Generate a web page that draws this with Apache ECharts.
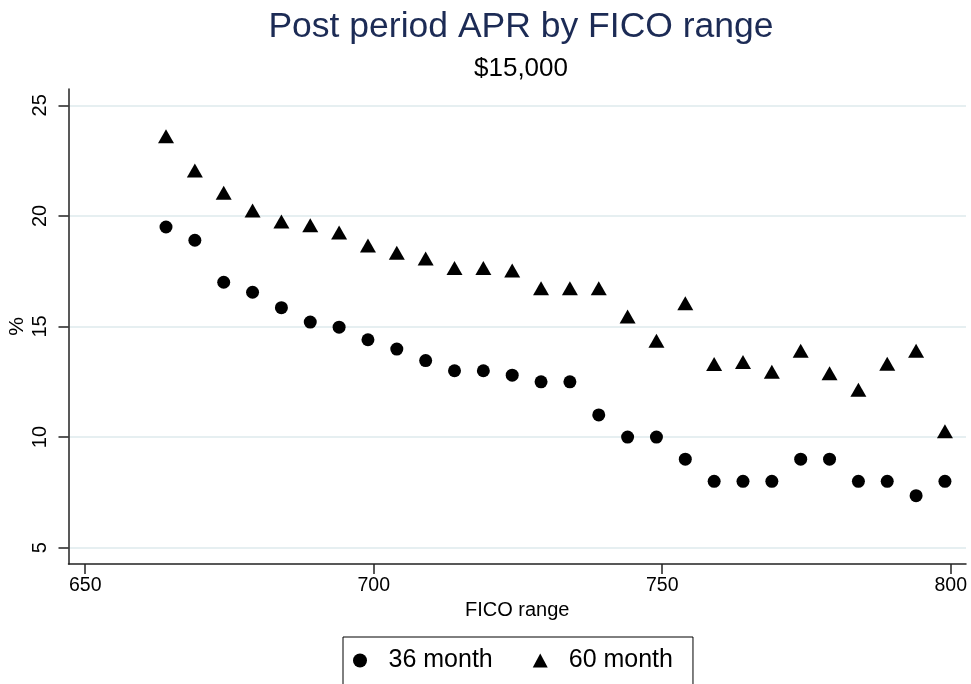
<!DOCTYPE html>
<html>
<head>
<meta charset="utf-8">
<script src="https://cdn.jsdelivr.net/npm/echarts@6/dist/echarts.min.js"></script>
<style>
  html, body { margin: 0; padding: 0; background: #fff; }
  #main { width: 971px; height: 684px; }
</style>
</head>
<body>
<div id="main"></div>
<script>
// FICO range midpoints
var fico = [664, 669, 674, 679, 684, 689, 694, 699, 704, 709, 714, 719, 724, 729,
            734, 739, 744, 749, 754, 759, 764, 769, 774, 779, 784, 789, 794, 799];
// APR (%) for 36 month loans
var apr36 = [19.5, 18.9, 17.0, 16.55, 15.85, 15.2, 14.97, 14.4, 13.98, 13.46, 13.0, 13.0, 12.8, 12.5,
             12.5, 11.0, 10.0, 10.0, 9.0, 8.0, 8.0, 8.0, 9.0, 9.0, 8.0, 8.0, 7.35, 8.0];
// APR (%) for 60 month loans
var apr60 = [23.6, 22.05, 21.05, 20.25, 19.75, 19.58, 19.25, 18.66, 18.33, 18.07, 17.65, 17.65, 17.53, 16.73,
             16.73, 16.73, 15.45, 14.36, 16.05, 13.3, 13.39, 12.95, 13.9, 12.89, 12.14, 13.31, 13.9, 10.26];
// tick labels
var xTicks = [650, 700, 750, 800];
var yTicks = [5, 10, 15, 20, 25];

var seriesNames = ['36 month', '60 month'];

function pairs(ys) {
    var res = [];
    for (var i = 0; i < fico.length; i++) {
        res.push([fico[i], ys[i]]);
    }
    return res;
}

var chart = echarts.init(document.getElementById('main'));

var option = {
    backgroundColor: '#ffffff',
    animation: false,
    title: [{
        text: 'Post period APR by FICO range',
        left: 516,
        textAlign: 'center',
        top: 4,
        textStyle: {color: '#1c2b55', fontSize: 35.5, fontWeight: 'normal', fontFamily: 'Liberation Sans'}
    }, {
        text: '$15,000',
        left: 516,
        textAlign: 'center',
        top: 51,
        textStyle: {color: '#000', fontSize: 26, fontWeight: 'normal', fontFamily: 'Liberation Sans'}
    }],
    grid: {
        left: 68.5,
        right: 5,
        top: 89,
        bottom: 120,
        containLabel: false,
        outerBoundsMode: 'none'
    },
    xAxis: {
        type: 'value',
        min: 647.1,
        max: 802.65,
        name: 'FICO range',
        nameLocation: 'middle',
        nameGap: 36,
        nameMoveOverlap: false,
        nameTextStyle: {color: '#000', fontSize: 20, fontFamily: 'Liberation Sans'},
        axisLine: {show: true, onZero: false, lineStyle: {color: '#222', width: 1.5}},
        axisTick: {show: true, length: 10, customValues: xTicks, lineStyle: {color: '#222', width: 1.5}},
        axisLabel: {customValues: xTicks, color: '#000', fontSize: 19.5, margin: 12, fontFamily: 'Liberation Sans'},
        splitLine: {show: false}
    },
    yAxis: {
        type: 'value',
        min: 4.26,
        max: 25.74,
        name: '%',
        nameLocation: 'middle',
        nameGap: 51,
        nameRotate: 90,
        nameMoveOverlap: false,
        nameTextStyle: {color: '#000', fontSize: 21, fontFamily: 'Liberation Sans', verticalAlign: 'middle'},
        axisLine: {show: true, onZero: false, lineStyle: {color: '#222', width: 1.5}},
        axisTick: {show: true, length: 10, customValues: yTicks, lineStyle: {color: '#222', width: 1.5}},
        axisLabel: {customValues: yTicks, rotate: 90, color: '#000', fontSize: 20, margin: 18, fontFamily: 'Liberation Sans'},
        splitLine: {show: true, lineStyle: {color: '#e6eff1', width: 2}}
    },
    legend: {
        left: 343,
        top: 637,
        orient: 'horizontal',
        padding: [11, 20, 30, 10],
        borderColor: '#000',
        borderWidth: 1,
        itemWidth: 15,
        itemHeight: 14,
        itemGap: 40,
        textStyle: {color: '#000', fontSize: 25, fontFamily: 'Liberation Sans', padding: [0, 0, 0, 16]},
        data: [
            {name: seriesNames[0], icon: 'circle'},
            {name: seriesNames[1], icon: 'triangle'}
        ]
    },
    series: [{
        name: seriesNames[0],
        type: 'scatter',
        symbol: 'circle',
        symbolSize: 13,
        itemStyle: {color: '#000', opacity: 1},
        data: pairs(apr36)
    }, {
        name: seriesNames[1],
        type: 'scatter',
        symbol: 'triangle',
        symbolSize: [16, 14],
        itemStyle: {color: '#000', opacity: 1},
        data: pairs(apr60)
    }]
};

chart.setOption(option);
</script>
</body>
</html>
